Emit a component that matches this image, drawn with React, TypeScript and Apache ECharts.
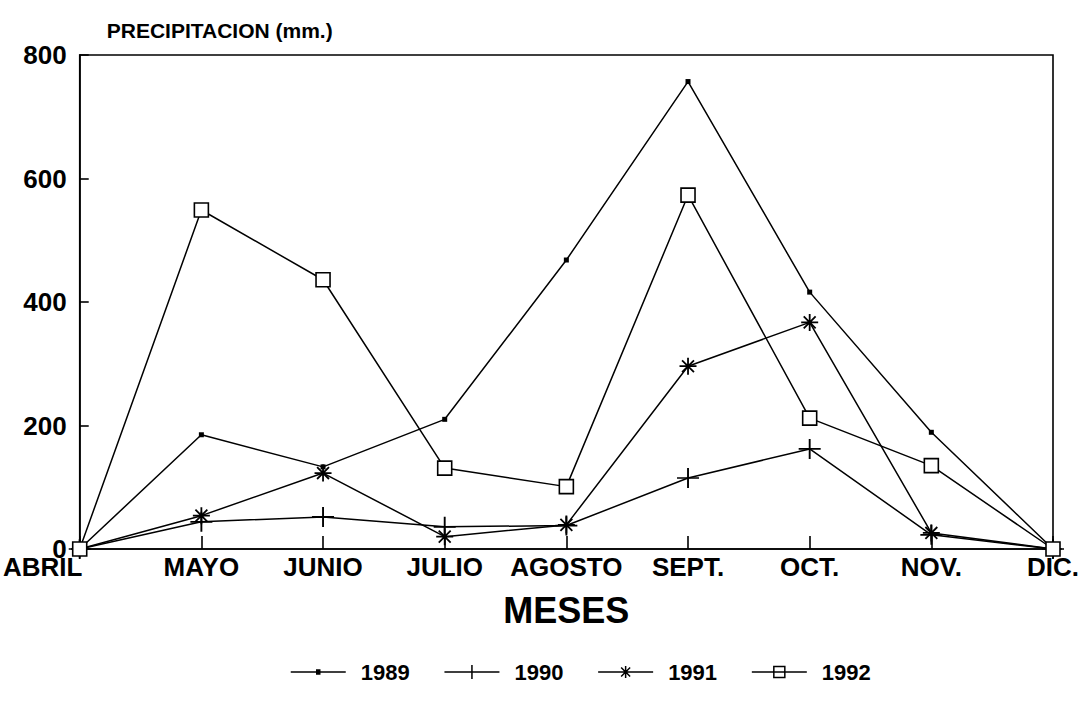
import React, { useEffect, useRef } from "react";
import * as echarts from "echarts";

const months = ["ABRIL", "MAYO", "JUNIO", "JULIO", "AGOSTO", "SEPT.", "OCT.", "NOV.", "DIC."];
const yTicks = [0, 200, 400, 600, 800];
const years = ["1989", "1990", "1991", "1992"];
const s1989 = [0, 185, 133, 210, 468, 757, 416, 189, 0];
const s1990 = [0, 44, 52, 36, 38, 115, 162, 23, 0];
const s1991 = [0, 54, 123, 20, 39, 296, 367, 26, 0];
const s1992 = [0, 549, 436, 131, 101, 573, 212, 135, 0];

const FONT = "'Liberation Sans', Arial, Helvetica, sans-serif";

const plusPath = "path://M10,0 L10,20 M0,10 L20,10";
const starPath = "path://M10,0 L10,20 M0,10 L20,10 M3,3 L17,17 M3,17 L17,3";

const legendIcons = [
  "path://M0,0 M55,14 M0,7 L55,7 M26,5 L29,5 L29,9 L26,9 Z",
  "path://M0,7 L55,7 M27.5,0 L27.5,14",
  "path://M0,0 M55,14 M0,7 L55,7 M27.5,1 L27.5,13 M21.5,7 L33.5,7 M23,2.5 L32,11.5 M23,11.5 L32,2.5",
  "path://M0,0 M55,14 M0,7 L22,7 M33,7 L55,7 M22,1.5 L33,1.5 L33,12.5 L22,12.5 Z M22,7 L33,7",
];
const legendFill = ["#000", "#000", "#000", "#fff"];

export default function App() {
  const ref = useRef<HTMLDivElement>(null);
  useEffect(() => {
    if (!ref.current) return;
    const chart = echarts.init(ref.current, null, { renderer: "svg" });
    const mk = (name: string, data: number[], symbol: string, size: any, fill: string, bw: number) => ({
      name,
      type: "line",
      data,
      symbol,
      symbolSize: size,
      showAllSymbol: true,
      lineStyle: { color: "#000", width: 1.5 },
      itemStyle: { color: fill, borderColor: "#000", borderWidth: bw },
      emphasis: { disabled: true },
    });
    chart.setOption({
      animation: false,
      backgroundColor: "#fff",
      grid: {
        left: 79,
        right: 30,
        top: 55,
        bottom: 162,
        show: true,
        borderColor: "#000",
        borderWidth: 1.6,
        containLabel: false,
      },
      legend: {
        top: 656,
        left: 285,
        itemWidth: 55,
        itemHeight: 14,
        itemGap: 34,
        textStyle: {
          fontFamily: FONT,
          fontWeight: "bold",
          fontSize: 22,
          color: "#000",
          padding: [0, 0, 0, 10],
        },
        data: years.map((y, i) => ({
          name: y,
          icon: legendIcons[i],
          itemStyle: { color: legendFill[i], borderColor: "#000", borderWidth: 1.5 },
        })),
      },
      xAxis: {
        type: "category",
        data: months,
        boundaryGap: false,
        name: "MESES",
        nameLocation: "middle",
        nameGap: 43,
        nameTextStyle: { fontFamily: FONT, fontWeight: "bold", fontSize: 36, color: "#000" },
        axisLine: { lineStyle: { color: "#000", width: 1.6 } },
        axisTick: { inside: true, length: 13, lineStyle: { color: "#000", width: 1.6 }, alignWithLabel: true },
        axisLabel: {
          fontFamily: FONT,
          fontWeight: "bold",
          fontSize: 26,
          lineHeight: 20,
          color: "#000",
          margin: 8,
          interval: 0,
          formatter: (v: string, i: number) => (i === 0 ? "{first|" + v + "}" : v),
          rich: {
            first: {
              fontFamily: FONT,
              fontWeight: "bold",
              fontSize: 26,
              lineHeight: 20,
              color: "#000",
              padding: [0, 74, 0, 0],
            },
          },
        },
        splitLine: { show: false },
      },
      yAxis: {
        type: "value",
        min: yTicks[0],
        max: yTicks[yTicks.length - 1],
        interval: 200,
        name: "PRECIPITACION (mm.)",
        nameLocation: "end",
        nameGap: 14,
        nameTextStyle: {
          fontFamily: FONT,
          fontWeight: "bold",
          fontSize: 21,
          color: "#000",
          align: "left",
          padding: [0, 0, 0, 27],
        },
        axisLine: { show: true, lineStyle: { color: "#000", width: 1.6 } },
        axisTick: { show: true, inside: true, length: 9, lineStyle: { color: "#000", width: 1.6 } },
        axisLabel: { fontFamily: FONT, fontWeight: "bold", fontSize: 26, lineHeight: 16, color: "#000", margin: 13 },
        splitLine: { show: false },
      },
      series: [
        mk("1989", s1989, "rect", 5, "#000", 0),
        mk("1990", s1990, plusPath, [22, 20], "#000", 1.8),
        mk("1991", s1991, starPath, 17, "#000", 1.8),
        mk("1992", s1992, "rect", 14, "#fff", 1.6),
      ],
    });
    return () => chart.dispose();
  }, []);
  return <div ref={ref} style={{ width: 1083, height: 711, position: "absolute", left: 0, top: 0 }} />;
}
